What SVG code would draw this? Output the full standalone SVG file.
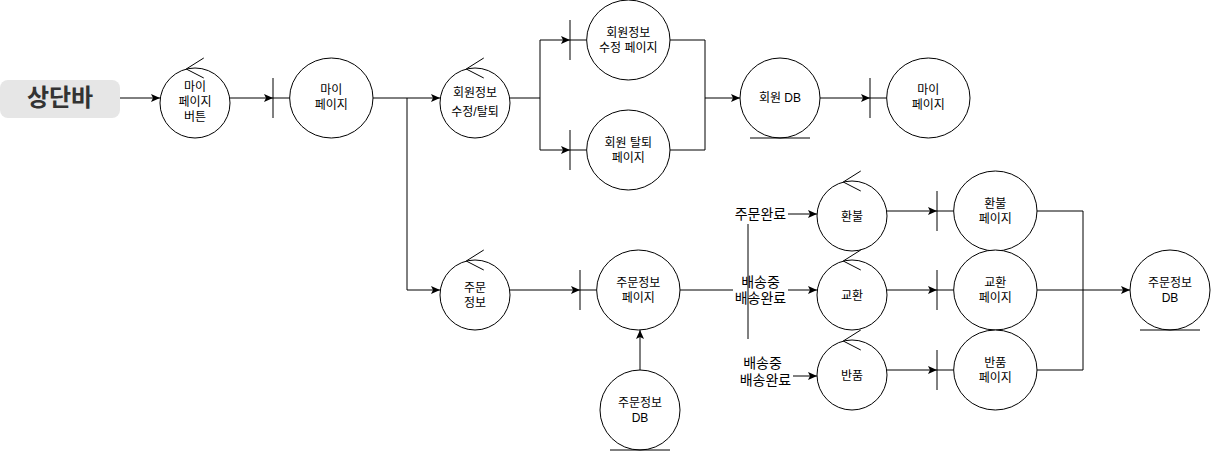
<svg xmlns="http://www.w3.org/2000/svg" width="1211" height="451" viewBox="0 0 1211 451">
<defs>
<style>
.sh{fill:#fff;stroke:#000;stroke-width:1}
.ln{fill:none;stroke:#000;stroke-width:1}
.t{font-family:"Liberation Sans","Noto Sans CJK KR",sans-serif;font-size:12px;text-anchor:middle;fill:#000}
.e{font-family:"Liberation Sans","Noto Sans CJK KR",sans-serif;font-size:14px;text-anchor:middle;fill:#000}
.arr{marker-end:url(#a)}
</style>
<marker id="a" viewBox="0 0 9 8" refX="9" refY="4" markerWidth="9" markerHeight="8" orient="auto" markerUnits="userSpaceOnUse">
<path d="M0,0 L9,4 L0,8 L2,4 z" fill="#000"/>
</marker>
<g id="ctl">
<path class="ln" d="M26.25,11 L43.75,0"/>
<ellipse class="sh" cx="35" cy="45" rx="35" ry="35"/>
<path class="ln" d="M26.25,11 L43.75,20"/>
</g>
<g id="bnd">
<path class="ln" d="M0,20 V60 M0,40 H16.67"/>
<ellipse class="sh" cx="58.33" cy="40" rx="41.67" ry="40"/>
</g>
<g id="ent">
<ellipse class="sh" cx="40" cy="40" rx="40" ry="40"/>
<path class="ln" d="M10,80 H70"/>
</g>
</defs>

<g id="connectors">
<path class="ln arr" d="M120,98 H160"/>
<path class="ln arr" d="M230,98 H273"/>
<path class="ln" d="M373,98 H407"/>
<path class="ln arr" d="M407,98 H440"/>
<path class="ln arr" d="M407,98 V290 H440"/>
<path class="ln" d="M510,98 H540"/>
<path class="ln arr" d="M540,98 V40 H570"/>
<path class="ln arr" d="M540,98 V150 H570"/>
<path class="ln" d="M670,40 H705 V98"/>
<path class="ln" d="M670,150 H705 V98"/>
<path class="ln arr" d="M705,98 H740"/>
<path class="ln arr" d="M820,98 H870"/>
<path class="ln arr" d="M510,290 H580"/>
<path class="ln arr" d="M640,370 V330"/>
<path class="ln" d="M680,290 H733"/>
<path class="ln arr" d="M788,290 H817"/>
<path class="ln arr" d="M788,214 H817"/>
<path class="ln arr" d="M793,376 H817"/>
<path class="ln" d="M748,224 V339"/>
<path class="ln arr" d="M887,211 H937"/>
<path class="ln arr" d="M887,290 H937"/>
<path class="ln arr" d="M887,370 H937"/>
<path class="ln" d="M1037,211 H1083 M1037,290 H1083 M1037,370 H1083 M1083,211 V370"/>
<path class="ln arr" d="M1083,290 H1130"/>
<text class="e" x="760.5" y="219">주문완료</text>
<text class="e" x="760.5" y="287">배송중</text>
<text class="e" x="760.5" y="303">배송완료</text>
<text class="e" x="762.5" y="368">배송중</text>
<text class="e" x="765.5" y="385">배송완료</text>
</g>

<g id="topbar">
<rect x="0" y="80" width="120" height="38" rx="8" ry="8" fill="#e6e6e6"/>
<text x="60" y="106" font-family="'Liberation Sans','Noto Sans CJK KR',sans-serif" font-size="24" font-weight="bold" text-anchor="middle" fill="#333">상단바</text>
</g>

<g id="mypage-btn" transform="translate(160,58)">
<use href="#ctl"/>
<text class="t" x="35" y="33">마이</text>
<text class="t" x="35" y="48">페이지</text>
<text class="t" x="35" y="63">버튼</text>
</g>

<g id="mypage" transform="translate(273,58)">
<use href="#bnd"/>
<text class="t" x="58.33" y="36">마이</text>
<text class="t" x="58.33" y="51">페이지</text>
</g>

<g id="member-ctl" transform="translate(440,58)">
<use href="#ctl"/>
<text class="t" x="35" y="39">회원정보</text>
<text class="t" x="35" y="58">수정/탈퇴</text>
</g>

<g id="member-edit" transform="translate(570,0)">
<use href="#bnd"/>
<text class="t" x="58.33" y="36.5">회원정보</text>
<text class="t" x="58.33" y="51.5">수정 페이지</text>
</g>

<g id="member-leave" transform="translate(570,110)">
<use href="#bnd"/>
<text class="t" x="58.33" y="36.5">회원 탈퇴</text>
<text class="t" x="58.33" y="51.5">페이지</text>
</g>

<g id="member-db" transform="translate(740,58)">
<use href="#ent"/>
<text class="t" x="40" y="44">회원 DB</text>
</g>

<g id="mypage2" transform="translate(870,58)">
<use href="#bnd"/>
<text class="t" x="58.33" y="36">마이</text>
<text class="t" x="58.33" y="51">페이지</text>
</g>

<g id="order-ctl" transform="translate(440,250)">
<use href="#ctl"/>
<text class="t" x="35" y="41.5">주문</text>
<text class="t" x="35" y="56.5">정보</text>
</g>

<g id="order-page" transform="translate(580,250)">
<use href="#bnd"/>
<text class="t" x="58.33" y="36.5">주문정보</text>
<text class="t" x="58.33" y="51.5">페이지</text>
</g>

<g id="order-db" transform="translate(600,370)">
<use href="#ent"/>
<text class="t" x="40" y="36.5">주문정보</text>
<text class="t" x="40" y="51.5">DB</text>
</g>

<g id="refund" transform="translate(817,171)">
<use href="#ctl"/>
<text class="t" x="35" y="49.5">환불</text>
</g>

<g id="exchange" transform="translate(817,250)">
<use href="#ctl"/>
<text class="t" x="35" y="49.5">교환</text>
</g>

<g id="return" transform="translate(817,330)">
<use href="#ctl"/>
<text class="t" x="35" y="49.5">반품</text>
</g>

<g id="refund-page" transform="translate(937,171)">
<use href="#bnd"/>
<text class="t" x="58.33" y="36.5">환불</text>
<text class="t" x="58.33" y="51.5">페이지</text>
</g>

<g id="exchange-page" transform="translate(937,250)">
<use href="#bnd"/>
<text class="t" x="58.33" y="36.5">교환</text>
<text class="t" x="58.33" y="51.5">페이지</text>
</g>

<g id="return-page" transform="translate(937,330)">
<use href="#bnd"/>
<text class="t" x="58.33" y="36.5">반품</text>
<text class="t" x="58.33" y="51.5">페이지</text>
</g>

<g id="order-db2" transform="translate(1130,250)">
<use href="#ent"/>
<text class="t" x="40" y="36.5">주문정보</text>
<text class="t" x="40" y="51.5">DB</text>
</g>
</svg>
